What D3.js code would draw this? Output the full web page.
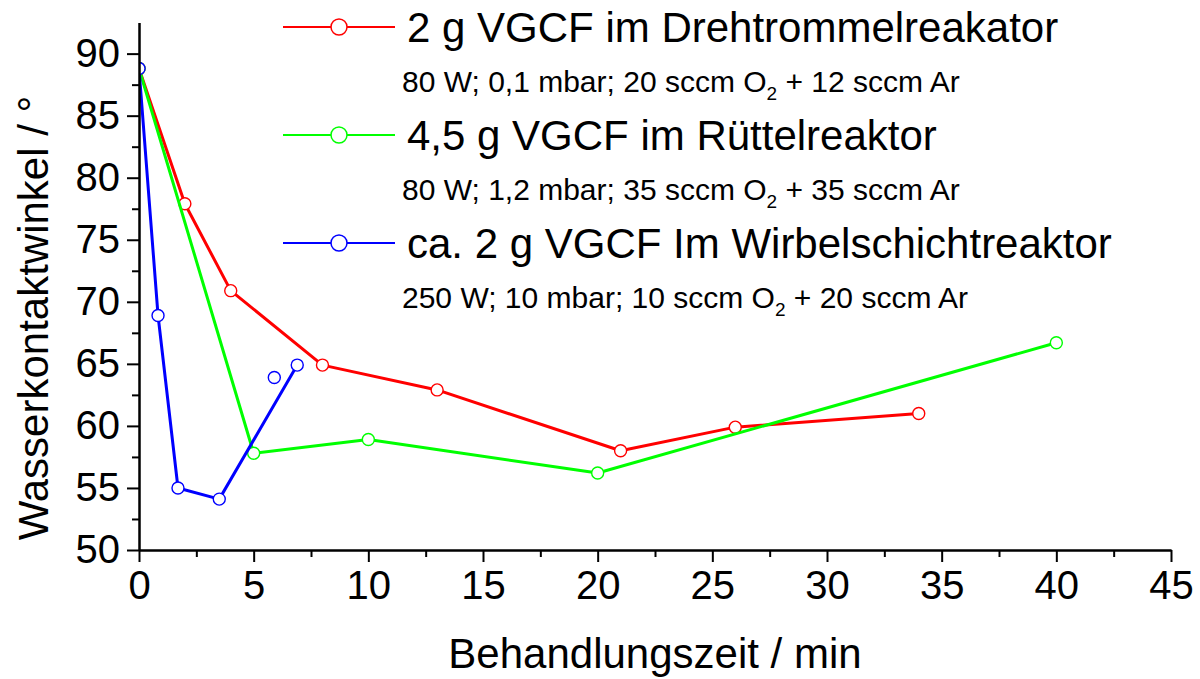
<!DOCTYPE html>
<html>
<head>
<meta charset="utf-8">
<script src="https://cdn.jsdelivr.net/npm/d3@7"></script>
<style>
  body { margin: 0; background: #fff; }
  svg { display: block; font-family: "Liberation Sans", Arial, sans-serif; }
  .axis path, .axis line { stroke: #000; stroke-width: 2; }
  .axis text { font-size: 40px; fill: #000; font-family: "Liberation Sans", Arial, sans-serif; }
</style>
</head>
<body>
<svg width="1200" height="679"></svg>
<script>
// series values
var redX   = [0, 2, 4, 8, 13, 21, 26, 34],
    redY   = [88.8, 77.9, 70.9, 64.9, 62.9, 58.0, 59.9, 61.0];
var greenX = [0, 5, 10, 20, 40],
    greenY = [88.8, 57.8, 58.9, 56.2, 66.7];
var blueX  = [0, 0.83, 1.7, 3.5, 6.9],
    blueY  = [88.8, 68.9, 55.0, 54.1, 64.9];
// a single blue point that is not joined to the line
var blueLoneX = [5.9],
    blueLoneY = [63.9];

var names = ["2 g VGCF im Drehtrommelreakator",
             "4,5 g VGCF im Rüttelreaktor",
             "ca. 2 g VGCF Im Wirbelschichtreaktor"];
var notes = [["80 W; 0,1 mbar; 20 sccm O", "2", " + 12 sccm Ar"],
             ["80 W; 1,2 mbar; 35 sccm O", "2", " + 35 sccm Ar"],
             ["250 W; 10 mbar; 10 sccm O", "2", " + 20 sccm Ar"]];
var colors = ["#ff0000", "#00ff00", "#0000ff"];

var xMajor = [0, 5, 10, 15, 20, 25, 30, 35, 40, 45],
    xMinor = [2.5, 7.5, 12.5, 17.5, 22.5, 27.5, 32.5, 37.5, 42.5];
var yMajor = [50, 55, 60, 65, 70, 75, 80, 85, 90],
    yMinor = [52.5, 57.5, 62.5, 67.5, 72.5, 77.5, 82.5, 87.5];

var svg = d3.select("svg"),
    plotLeft = 139, plotRight = 1171, plotTop = 22.6, plotBottom = 550;

var x = d3.scaleLinear().domain([0, 45]).range([plotLeft, plotRight]),
    y = d3.scaleLinear().domain([50, 92.5]).range([plotBottom, plotTop]);

function zip(xs, ys) { return xs.map(function(v, i) { return [v, ys[i]]; }); }

var series = [zip(redX, redY), zip(greenX, greenY), zip(blueX, blueY)];

svg.append("clipPath").attr("id", "plot")
  .append("rect")
    .attr("x", plotLeft).attr("y", 0)
    .attr("width", plotRight - plotLeft).attr("height", plotBottom);

var line = d3.line()
    .x(function(d) { return x(d[0]); })
    .y(function(d) { return y(d[1]); });

var plot = svg.append("g").attr("clip-path", "url(#plot)");

series.forEach(function(pts, i) {
  var g = plot.append("g");
  g.append("path")
      .attr("d", line(pts))
      .attr("fill", "none")
      .attr("stroke", colors[i])
      .attr("stroke-width", 3)
      .attr("stroke-linejoin", "round");
  var extra = i == 2 ? zip(blueLoneX, blueLoneY) : [];
  g.selectAll("circle")
    .data(pts.concat(extra))
    .enter().append("circle")
      .attr("cx", function(d) { return x(d[0]); })
      .attr("cy", function(d) { return y(d[1]); })
      .attr("r", 6)
      .attr("fill", "#fff")
      .attr("stroke", colors[i])
      .attr("stroke-width", 1.4);
});

// axes: major ticks with labels, minor ticks without
svg.append("g")
    .attr("class", "axis")
    .attr("transform", "translate(0," + plotBottom + ")")
    .call(d3.axisBottom(x).tickValues(xMinor).tickSize(7).tickSizeOuter(0).tickFormat(""));
svg.append("g")
    .attr("class", "axis")
    .attr("transform", "translate(0," + plotBottom + ")")
    .call(d3.axisBottom(x).tickValues(xMajor).tickSize(12).tickSizeOuter(0).tickPadding(9).tickFormat(d3.format("d")));

svg.append("g")
    .attr("class", "axis")
    .attr("transform", "translate(" + plotLeft + ",0)")
    .call(d3.axisLeft(y).tickValues(yMinor).tickSize(7).tickSizeOuter(0).tickFormat(""));
svg.append("g")
    .attr("class", "axis")
    .attr("transform", "translate(" + plotLeft + ",0)")
    .call(d3.axisLeft(y).tickValues(yMajor).tickSize(12).tickSizeOuter(0).tickPadding(7).tickFormat(d3.format("d")));

svg.append("text")
    .attr("x", 655)
    .attr("y", 668)
    .attr("text-anchor", "middle")
    .style("font-size", "42px")
    .text("Behandlungszeit / min");

svg.append("text")
    .attr("transform", "translate(48,318) rotate(-90)")
    .attr("text-anchor", "middle")
    .style("font-size", "42px")
    .text("Wasserkontaktwinkel / °");

// legend
var legend = svg.selectAll(".legend")
    .data(names)
    .enter().append("g")
      .attr("class", "legend")
      .attr("transform", function(d, i) { return "translate(0," + (27 + i * 108) + ")"; });

legend.append("line")
    .attr("x1", 283).attr("x2", 395)
    .attr("stroke", function(d, i) { return colors[i]; })
    .attr("stroke-width", 2);

legend.append("circle")
    .attr("cx", 339).attr("r", 8)
    .attr("fill", "#fff")
    .attr("stroke", function(d, i) { return colors[i]; })
    .attr("stroke-width", 1.5);

legend.append("text")
    .attr("x", 407).attr("y", 15)
    .style("font-size", "42px")
    .text(function(d) { return d; });

var note = legend.append("text")
    .attr("x", 402).attr("y", 65)
    .style("font-size", "30px");
note.append("tspan").text(function(d, i) { return notes[i][0]; });
note.append("tspan").attr("dy", 8).style("font-size", "19px").text(function(d, i) { return notes[i][1]; });
note.append("tspan").attr("dy", -8).text(function(d, i) { return notes[i][2]; });
</script>
</body>
</html>
